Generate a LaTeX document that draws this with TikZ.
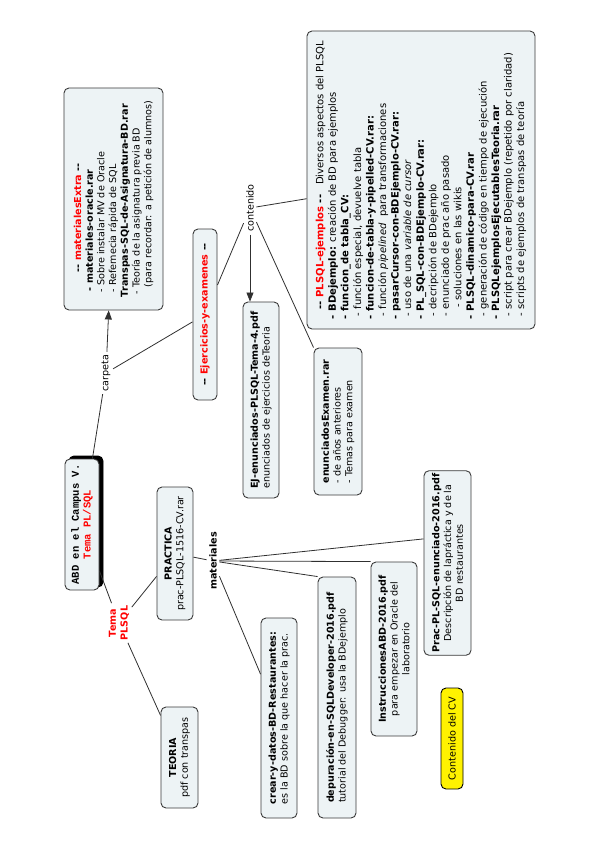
\documentclass[tikz,border=0pt]{standalone}
\usepackage{fontspec}
\setmainfont{DejaVu Sans}
\newfontfamily\monob{Liberation Mono}
\usetikzlibrary{arrows.meta,calc}
\definecolor{boxc}{HTML}{EDF3F5}
\definecolor{bordc}{HTML}{3A3A3A}
\definecolor{redc}{HTML}{FF0000}
\definecolor{linec}{HTML}{303030}
\newcommand\fsN{\fontsize{9.6}{11.7}\selectfont}
\newcommand\fsB{\fontsize{10}{12.55}\selectfont}
\newcommand\dd{-\kern0pt-}
\begin{document}
\begin{tikzpicture}[x=1pt,y=-1pt,
  box/.style={draw=bordc, fill=boxc, rounded corners=5pt, line width=0.9pt, rotate=90, inner sep=3pt, font=\fsN},
  lbl/.style={rotate=90, inner sep=2.5pt, font=\fsN},
  conn/.style={draw=linec, line width=0.8pt},
  arr/.style={conn, -{Triangle[length=9pt,width=7pt]}},
  abdbox/.style={box, minimum width=131pt, minimum height=34pt, align=center, font=\monob\bfseries\fontsize{10.5}{11.7}\selectfont}
]
\useasboundingbox (0,0) rectangle (599,848);

% nodes
\node[box, minimum width=298pt, minimum height=228pt, align=left, font=\fsB] (plsql) at (421,180) {%
\hspace*{10pt}\textbf{\dd{} \textcolor{redc}{PLSQL-ejemplos} \dd}\quad Diversos aspectos del PLSQL\\
\textbf{- BDejemplo:} creación de BD para ejemplos\\
\textbf{- funcion\_de tabla\_CV:}\\
\hspace*{3pt}- función especial, devuelve tabla\\
\textbf{- funcion-de-tabla-y-pipelled-CV.rar:}\\
\hspace*{3pt}- función \textit{pipelined}\ \ para transformaciones\\
\textbf{- pasarCursor-con-BDEjemplo-CV.rar:}\\
\hspace*{3pt}- uso de una \textit{variable de cursor}\\
\textbf{- PL\_SQL-con-BDEjemplo-CV.rar:}\\
\hspace*{3pt}- decripción de BDejemplo\\
\hspace*{3pt}- enunciado de prac año pasado\\
\hspace*{12pt}- soluciones en las wikis\\
\textbf{- PLSQL-dinamico-para-CV.rar}\\
\hspace*{3pt}- generación de código en tiempo de ejecución\\
\textbf{- PLSQLejemplosEjecutablesTeoria.rar}\\
\hspace*{3pt}- script para crear BDejemplo (repetido por claridad)\\
\hspace*{3pt}- scripts de ejemplos de transpas de teoría};

\node[box, minimum width=222pt, minimum height=99pt, align=left] (mext) at (113.5,199) {%
\hspace*{25pt}\textbf{\dd{} \textcolor{redc}{materialesExtra} \dd}\\
\hspace*{6pt}\textbf{- materiales-oracle.rar}\\
\hspace*{5pt}- Sobre instalar MV de Oracle\\
\hspace*{5pt}- Refemecia rápida de SQL\\
\textbf{Transpas-SQL-de-Asignatura-BD.rar}\\
\hspace*{3pt}- Teoría de la asignatura previa BD\\
\hspace*{10pt}(para recordar: a petición de alumnos)};

\node[box, minimum width=171pt, minimum height=24pt] (ejer) at (205,314.5) {\textbf{\dd{} \textcolor{redc}{Ejercicios-y-examenes} \dd}};

\node[box, minimum width=196pt, minimum height=36pt, align=left] (ejen) at (261,400) {\textbf{EJ-enunciados-PLSQL-Tema-4.pdf}\\enunciados de ejercicios deTeoria};

\node[box, minimum width=147pt, minimum height=48pt, align=left] (exam) at (338,421.5) {\textbf{enunciadosExamen.rar}\\- de años anteriores\\- Temas para examen};

\node[abdbox, fill=black, draw=black] (abdsh) at (86,521.5) {\phantom{ABD en el Campus V.}\\\phantom{Tema PL/SQL}};
\node[abdbox] (abd) at (82,524.5) {ABD en el Campus V.\\\textcolor{redc}{Tema PL/SQL}};

\node[lbl, align=center, font=\fsN\bfseries, text=redc] (tema) at (119,623) {Tema\\PLSQL};

\node[box, minimum width=133pt, minimum height=36pt, align=center] (prac) at (175,553.5) {\textbf{PRACTICA}\\prac-PLSQL-1516-CV.rar};

\node[box, minimum width=101pt, minimum height=37pt, align=center] (teoria) at (179.5,757.5) {\textbf{TEORIA}\\pdf con transpas};

\node[lbl, font=\fsN\bfseries] (materiales) at (213,561) {materiales};

\node[box, minimum width=200pt, minimum height=36pt, align=left] (crear) at (279,718) {\textbf{crear-y-datos-BD-Restaurantes:}\\es la BD sobre la que hacer la prac.};

\node[box, minimum width=241pt, minimum height=38pt, align=left] (depu) at (337,697.5) {\textbf{depuración-en-SQLDeveloper-2016.pdf}\\tutorial del Debugger: usa la BDejemplo};

\node[box, minimum width=174pt, minimum height=46pt, align=center] (instr) at (394,649) {\textbf{InstruccionesABD-2016.pdf}\\para empezar en Oracle del\\laboratorio};

\node[box, minimum width=160pt, minimum height=47pt, align=center] (penun) at (447.5,563) {\textbf{Prac-PL-SQL-enunciado-2016.pdf}\\Descripción de lapráctica y de la\\BD restaurantes};

\node[box, fill=yellow, draw=black, minimum width=101pt, minimum height=22pt] (cv) at (452,738.5) {Contenido del CV};

\node[lbl] (contenido) at (250,208) {contenido};
\node[lbl] (carpeta) at (106,373) {carpeta};

% connectors
\draw[conn] (abd) -- (carpeta);
\draw[arr] (carpeta) -- (mext);
\draw[conn] (carpeta) -- (ejer);
\draw[conn] (ejer) -- (contenido);
\draw[conn] (contenido) -- (plsql);
\draw[arr] (contenido.west) -- (contenido.west |- ejen.east);
\draw[conn] (contenido) -- (exam.north east);
\draw[conn] (abd) -- (tema);
\draw[conn] (tema) -- (prac);
\draw[conn] (tema) -- (teoria);
\draw[conn] (prac) -- (materiales);
\draw[conn] (materiales) -- (crear);
\draw[conn] (materiales) -- (depu.north east);
\draw[conn] (materiales) -- (instr.north east);
\draw[conn] (materiales) -- ($(penun.north)!0.26!(penun.north east)$);
\end{tikzpicture}
\end{document}
